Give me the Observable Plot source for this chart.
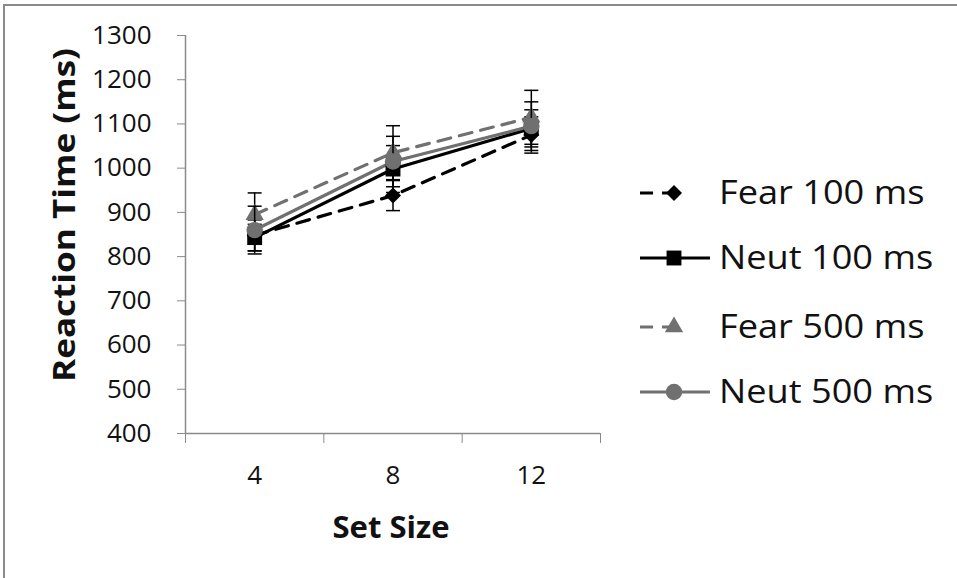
<!DOCTYPE html>
<html>
<head>
<meta charset="utf-8">
<script src="https://cdn.jsdelivr.net/npm/d3@7"></script>
<script src="https://cdn.jsdelivr.net/npm/@observablehq/plot@0.6"></script>
<style>
  html, body { margin: 0; padding: 0; background: #fff; }
  #wrap { position: relative; width: 957px; height: 578px; overflow: hidden; font-family: "Open Sans", sans-serif; }
  #wrap svg { position: absolute; left: 0; top: 0; }
  .edge { position: absolute; background: #8a8a8a; }
</style>
</head>
<body>
<div id="wrap">
  <div class="edge" style="left:3px;top:4px;width:954px;height:2px;"></div>
  <div class="edge" style="left:3px;top:4px;width:2px;height:574px;"></div>
</div>
<script>
// ---- data ----
const setSizes = ["4", "8", "12"];
const seriesNames = ["Fear 100 ms", "Neut 100 ms", "Fear 500 ms", "Neut 500 ms"];
const fear100 = [848, 938, 1075];
const neut100 = [843, 998, 1090];
const fear500 = [895, 1035, 1115];
const neut500 = [860, 1015, 1095];
const fear100Err = [35, 34, 41];
const neut100Err = [30, 53, 42];
const fear500Err = [49, 61, 61];
const neut500Err = [54, 57, 55];
const yTicks = [400, 500, 600, 700, 800, 900, 1000, 1100, 1200, 1300];
const xTitle = "Set Size";
const yTitle = "Reaction Time (ms)";

// ---- styles ----
const black = "#000000";
const gray = "#707070";
const axisGray = "#8a8a8a";
const styles = [
  {color: black, dash: "13,9", symbol: "diamond2", r: 7.2, d3sym: d3.symbolDiamond2},
  {color: black, dash: null, symbol: "square", r: 8.4, d3sym: d3.symbolSquare},
  {color: gray, dash: "13,9", symbol: "triangle", r: 6.8, d3sym: d3.symbolTriangle},
  {color: gray, dash: null, symbol: "circle", r: 8.2, d3sym: d3.symbolCircle}
];
const values = [fear100, neut100, fear500, neut500];
const errors = [fear100Err, neut100Err, fear500Err, neut500Err];

const rowsBySeries = seriesNames.map((s, k) =>
  setSizes.map((sz, i) => ({series: s, x: i, label: sz, y: values[k][i], err: errors[k][i]}))
);

const cap = {draw(context, size) { const r = Math.sqrt(size / Math.PI); context.moveTo(-r, 0); context.lineTo(r, 0); }};

const marks = [
  Plot.ruleY([400], {stroke: axisGray, strokeWidth: 1.5}),
  Plot.ruleX([-0.5], {stroke: axisGray, strokeWidth: 1.5}),
  Plot.axisY({ticks: yTicks, tickSize: 8, tickPadding: 26, fontSize: 26, stroke: axisGray, fill: "#111", tickFormat: d => String(d), label: null}),
  Plot.axisX({ticks: [-0.5, 0.5, 1.5, 2.5], tickSize: 10, tickFormat: () => "", stroke: axisGray, label: null}),
  Plot.axisX({ticks: [0, 1, 2], tickSize: 0, tickPadding: 32, fontSize: 26, fill: "#111", tickFormat: i => setSizes[i], label: null})
];
rowsBySeries.forEach((rows, k) => {
  const st = styles[k];
  marks.push(Plot.line(rows, {x: "x", y: "y", stroke: st.color, strokeWidth: 3.2, strokeDasharray: st.dash || undefined}));
});
rowsBySeries.forEach((rows, k) => {
  const st = styles[k];
  marks.push(Plot.ruleX(rows, {x: "x", y1: d => d.y - d.err, y2: d => d.y + d.err, stroke: black, strokeWidth: 1.5}));
  marks.push(Plot.dot(rows, {x: "x", y: d => d.y + d.err, symbol: cap, r: 7, stroke: black, strokeWidth: 1.5}));
  marks.push(Plot.dot(rows, {x: "x", y: d => d.y - d.err, symbol: cap, r: 7, stroke: black, strokeWidth: 1.5}));
  marks.push(Plot.dot(rows, {x: "x", y: "y", symbol: st.symbol, r: st.r, fill: st.color, stroke: "none"}));
});

const chart = Plot.plot({
  width: 957,
  height: 578,
  marginLeft: 185,
  marginRight: 357,
  marginTop: 35,
  marginBottom: 145,
  style: {fontFamily: "Open Sans, sans-serif", background: "transparent", color: "#111"},
  x: {type: "linear", domain: [-0.5, 2.5]},
  y: {domain: [400, 1300]},
  marks
});
document.getElementById("wrap").appendChild(chart);

// ---- axis titles & legend ----
const svg = d3.select(chart);
svg.append("text")
  .attr("x", 391).attr("y", 538)
  .attr("text-anchor", "middle")
  .attr("font-family", "Open Sans, sans-serif")
  .attr("font-weight", "bold").attr("font-size", 30).attr("fill", "#111")
  .attr("textLength", 117).attr("lengthAdjust", "spacingAndGlyphs")
  .text(xTitle);
svg.append("text")
  .attr("transform", "translate(75,215) rotate(-90)")
  .attr("text-anchor", "middle")
  .attr("font-family", "Open Sans, sans-serif")
  .attr("font-weight", "bold").attr("font-size", 30).attr("fill", "#111")
  .attr("textLength", 334).attr("lengthAdjust", "spacingAndGlyphs")
  .text(yTitle);

const legendY = [193, 258, 327, 392];
const lg = svg.append("g").attr("text-anchor", "start");
seriesNames.forEach((name, k) => {
  const st = styles[k];
  const cy = legendY[k];
  if (st.dash) {
    lg.append("line").attr("x1", 640).attr("x2", 684).attr("y1", cy).attr("y2", cy)
      .attr("stroke", st.color).attr("stroke-width", 3.2).attr("stroke-dasharray", st.dash);
  } else {
    lg.append("line").attr("x1", 640).attr("x2", 710).attr("y1", cy).attr("y2", cy)
      .attr("stroke", st.color).attr("stroke-width", 3.2);
  }
  lg.append("path")
    .attr("transform", `translate(674,${cy})`)
    .attr("d", d3.symbol(st.d3sym, st.r * st.r * Math.PI)())
    .attr("fill", st.color);
  const t = lg.append("text")
    .attr("x", 719).attr("y", cy + 11)
    .attr("text-anchor", "start")
    .attr("font-family", "Open Sans, sans-serif").attr("font-size", 32).attr("fill", "#111")
    .text(name);
  const len = t.node().getComputedTextLength();
  t.attr("textLength", len * 1.13).attr("lengthAdjust", "spacingAndGlyphs");
});
</script>
</body>
</html>
